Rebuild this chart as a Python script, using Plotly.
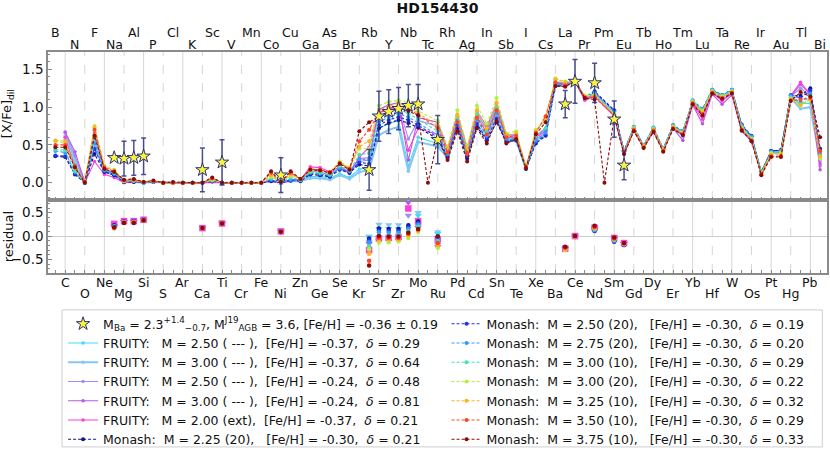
import plotly.graph_objects as go

# element symbols from B (Z=5) to Bi (Z=83)
elements = ["B", "C", "N", "O", "F", "Ne", "Na", "Mg", "Al", "Si",
            "P", "S", "Cl", "Ar", "K", "Ca", "Sc", "Ti", "V", "Cr",
            "Mn", "Fe", "Co", "Ni", "Cu", "Zn", "Ga", "Ge", "As", "Se",
            "Br", "Kr", "Rb", "Sr", "Y", "Zr", "Nb", "Mo", "Tc", "Ru",
            "Rh", "Pd", "Ag", "Cd", "In", "Sn", "Sb", "Te", "I", "Xe",
            "Cs", "Ba", "La", "Ce", "Pr", "Nd", "Pm", "Sm", "Eu", "Gd",
            "Tb", "Dy", "Ho", "Er", "Tm", "Yb", "Lu", "Hf", "Ta", "W",
            "Re", "Os", "Ir", "Pt", "Au", "Hg", "Tl", "Pb", "Bi"]
atomic_z = list(range(5, 84))

# observed abundances of HD154430
obs_z = [11, 12, 13, 14, 20, 22, 28, 37, 38, 39, 40, 41, 42, 44, 57, 58, 60, 62, 63]
obs_val = [0.33, 0.32, 0.33, 0.35, 0.17, 0.27, 0.10, 0.17, 0.88, 0.94, 0.98, 1.02, 1.04,
           0.57, 1.04, 1.34, 1.32, 0.84, 0.23]
obs_err = [0.0, 0.23, 0.23, 0.24, 0.29, 0.30, 0.23, 0.27, 0.33, 0.29, 0.28, 0.28, 0.26,
           0.32, 0.18, 0.29, 0.26, 0.24, 0.19]

N = None
# model predictions, one value per element (Z = 5 ... 83)
fruity_250_037 = [N, .58, .25, 0, .55, .15, .10, .01, .01, 0,
                  .01, 0, 0, 0, 0, 0, .02, 0, 0, 0,
                  0, 0, .02, 0, .02, .02, .08, .08, .06, .12,
                  .07, .18, .20, .72, .78, .82, .22, .60, N, .52,
                  .36, .80, .38, .82, .62, .95, .58, .58, .19, .58,
                  .66, 1.30, 1.30, 1.34, 1.12, 1.18, N, .90, .40, .72,
                  .48, .71, .43, .74, .64, 1.06, .92, 1.21, 1.13, 1.20,
                  .72, .58, .13, .40, .40, 1.12, 1.05, 1.05, .30]
fruity_300_037 = [N, .62, .30, 0, .50, .15, .10, .01, .01, 0,
                  .01, 0, 0, 0, 0, 0, .02, 0, 0, 0,
                  0, 0, .02, 0, .02, .02, .06, .06, .04, .10,
                  .05, .14, .17, .63, .70, .74, .15, .54, N, .48,
                  .33, .74, .34, .76, .58, .88, .55, .56, .18, .56,
                  .64, 1.30, 1.30, 1.34, 1.12, 1.18, N, .90, .40, .72,
                  .48, .71, .43, .74, .64, 1.07, .94, 1.22, 1.14, 1.21,
                  .72, .58, .13, .40, .40, 1.12, .98, 1.00, .28]
fruity_250_024 = [N, .66, .36, .01, .60, .17, .12, .01, .02, 0,
                  .01, 0, 0, 0, 0, 0, .02, 0, 0, 0,
                  0, 0, .03, 0, .04, .03, .15, .14, .10, .20,
                  .12, .28, .30, .92, .98, 1.02, .58, .82, N, .75,
                  .42, .88, .44, .92, .70, 1.02, .62, .62, .20, .60,
                  .70, 1.32, 1.31, 1.34, 1.11, 1.16, N, .89, .39, .71,
                  .47, .70, .43, .73, .61, 1.05, .88, 1.20, 1.10, 1.19,
                  .70, .56, .13, .40, .41, 1.14, 1.25, 1.15, .22]
fruity_300_024 = [N, .67, .41, .01, .65, .18, .13, .01, .02, 0,
                  .01, 0, 0, 0, 0, 0, .02, 0, 0, 0,
                  0, 0, .03, 0, .04, .04, .18, .17, .12, .22,
                  .14, .32, .33, .97, 1.03, 1.06, .30, .86, N, .80,
                  .44, .90, .46, .95, .74, 1.05, .64, .63, .21, .62,
                  .72, 1.33, 1.32, 1.35, 1.10, 1.15, N, .88, .38, .70,
                  .47, .68, .42, .72, .56, 1.03, .78, 1.17, 1.04, 1.16,
                  .68, .55, .12, .39, .40, 1.14, 1.30, 1.17, .17]
fruity_200_ext = [N, .60, .20, 0, .28, .11, .07, 0, .01, 0,
                  .01, 0, 0, 0, 0, 0, .01, 0, 0, 0,
                  0, 0, .02, 0, .03, .04, .21, .20, .14, .20,
                  .13, .34, .47, .93, .98, 1.00, .43, .72, N, .64,
                  .40, .84, .42, .88, .66, .98, .60, .60, .20, .60,
                  .68, 1.31, 1.31, 1.34, 1.09, 1.14, N, .88, .38, .69,
                  .46, .68, .42, .73, .63, 1.04, .84, 1.19, 1.08, 1.18,
                  .69, .56, .13, .42, .43, 1.15, 1.33, 1.16, .25]
monash_225_20 = [.35, .34, .11, 0, .38, .14, .10, .01, .01, 0,
                 .01, 0, 0, 0, 0, 0, .02, 0, 0, 0,
                 0, 0, .02, 0, .03, .02, .11, .10, .08, .17,
                 .13, .24, .22, .72, .79, .83, .79, .73, N, .58,
                 .33, .72, .32, .74, .56, .80, .54, .56, .18, .52,
                 .62, 1.28, 1.28, 1.34, 1.12, 1.20, N, .95, .42, .72,
                 .49, .71, .44, .75, .67, 1.07, .95, 1.22, 1.15, 1.22,
                 .76, .61, .14, .42, .43, 1.15, 1.15, 1.25, .45]
monash_250_20 = [.36, .35, .12, 0, .45, .15, .11, .01, .02, 0,
                 .01, 0, 0, 0, 0, 0, .02, 0, 0, 0,
                 0, 0, .03, 0, .03, .03, .12, .11, .09, .18,
                 .14, .27, .25, .76, .83, .87, .83, .76, N, .60,
                 .35, .76, .35, .78, .58, .85, .56, .57, .19, .54,
                 .63, 1.29, 1.29, 1.34, 1.13, 1.21, N, .96, .42, .73,
                 .49, .72, .45, .76, .68, 1.08, .97, 1.23, 1.16, 1.23,
                 .77, .62, .14, .42, .43, 1.16, 1.12, 1.22, .42]
monash_275_20 = [.42, .40, .14, 0, .52, .16, .12, .02, .02, 0,
                 .01, 0, 0, 0, 0, 0, .03, 0, 0, 0,
                 0, 0, .04, 0, .04, .03, .13, .12, .10, .19,
                 .15, .31, .30, .80, .87, .91, .87, .79, N, .63,
                 .38, .82, .38, .84, .62, .92, .58, .58, .19, .56,
                 .66, 1.31, 1.30, 1.34, 1.14, 1.19, N, .94, .41, .74,
                 .50, .73, .45, .76, .68, 1.09, .98, 1.23, 1.16, 1.23,
                 .76, .61, .14, .41, .42, 1.15, 1.06, 1.18, .38]
monash_300_10 = [.44, .43, .15, 0, .60, .18, .13, .02, .03, 0,
                 .02, 0, 0, 0, 0, 0, .03, 0, 0, 0,
                 0, 0, .06, 0, .07, .04, .14, .13, .11, .22,
                 .16, .37, .39, .86, .93, .97, .92, .84, N, .68,
                 .42, .88, .42, .92, .68, 1.00, .60, .61, .20, .62,
                 .72, 1.34, 1.32, 1.34, 1.14, 1.17, N, .92, .40, .73,
                 .49, .72, .44, .75, .67, 1.08, .96, 1.22, 1.15, 1.22,
                 .74, .59, .13, .40, .41, 1.13, 1.04, 1.14, .35]
monash_300_20 = [.55, .52, .19, .01, .75, .22, .17, .02, .03, .01,
                 .02, 0, 0, 0, 0, 0, .04, 0, 0, 0,
                 0, 0, .08, .01, .09, .05, .16, .16, .13, .28,
                 .20, .45, .45, 1.02, 1.07, 1.09, 1.06, .95, N, .82,
                 .48, .96, .48, 1.02, .78, 1.12, .65, .68, .22, .70,
                 .82, 1.38, 1.34, 1.35, 1.15, 1.16, N, .91, .40, .72,
                 .49, .71, .44, .74, .66, 1.07, .95, 1.21, 1.14, 1.21,
                 .73, .58, .13, .39, .39, 1.11, 1.02, 1.12, .32]
monash_325_10 = [.56, .55, .21, .01, .73, .21, .16, .03, .04, .01,
                 .02, 0, 0, 0, 0, 0, .05, 0, 0, 0,
                 0, 0, .10, .01, .11, .05, .17, .16, .13, .26,
                 .19, .48, .55, .95, 1.01, 1.05, 1.00, .92, N, .76,
                 .45, .90, .44, .96, .72, 1.06, .63, .65, .21, .68,
                 .86, 1.37, 1.33, 1.34, 1.14, 1.15, N, .90, .39, .71,
                 .48, .70, .43, .73, .65, 1.06, .93, 1.20, 1.13, 1.20,
                 .71, .57, .12, .37, .37, 1.10, 1.03, 1.10, .35]
monash_350_10 = [.50, .50, .22, .01, .70, .20, .15, .03, .04, .01,
                 .02, 0, 0, 0, 0, 0, .06, 0, 0, 0,
                 0, 0, .13, .01, .13, .05, .18, .17, .14, .26,
                 .18, .55, .70, .92, .98, 1.02, .97, .90, N, .72,
                 .40, .80, .38, .86, .64, .96, .60, .62, .20, .66,
                 .88, 1.33, 1.29, 1.34, 1.13, 1.13, N, .89, .39, .70,
                 .47, .69, .42, .72, .64, 1.05, .91, 1.19, 1.12, 1.19,
                 .70, .56, .11, .35, .35, 1.09, 1.10, 1.12, .42]
monash_375_10 = [.47, .47, .20, 0, .62, .18, .14, .04, .05, .01,
                 .03, 0, .01, 0, 0, 0, .07, 0, 0, 0,
                 0, 0, .15, .01, .15, .05, .17, .16, .13, .25,
                 .17, .68, .80, .88, .95, .99, .95, .89, 0.0, .58,
                 .30, .68, .28, .72, .52, .82, .52, .58, .19, .64,
                 .80, 1.28, 1.27, 1.34, 1.12, 1.10, 0.0, .87, .38, .68,
                 .46, .67, .41, .71, .63, 1.04, .89, 1.18, 1.11, 1.18,
                 .69, .55, .10, .34, .34, 1.08, 1.20, 1.14, .60]

obs_label = ("M<sub>Ba</sub> = 2.3<sup>+1.4</sup><sub>\u22120.7</sub>, "
             "M<sup>J19</sup><sub>AGB</sub> = 3.6, [Fe/H] = -0.36 \u00b1 0.19")
sp = "\u00a0"
fr = "FRUITY:" + sp * 3 + "M = {} ({})," + sp * 2 + "[Fe/H] = {}," + sp * 2 + "<i>\u03b4</i> = {}"
mo = "Monash:" + sp * 2 + "M = {} ({})," + sp * 3 + "[Fe/H] = -0.30," + sp * 2 + "<i>\u03b4</i> = {}"

# name, values, colour, family
models = [
    (fr.format("2.50", " --- ", "-0.37", "0.29"), fruity_250_037, "#3fdff3", "fruity"),
    (fr.format("3.00", " --- ", "-0.37", "0.64"), fruity_300_037, "#86c6f4", "fruity"),
    (fr.format("2.50", " --- ", "-0.24", "0.48"), fruity_250_024, "#9e8ef7", "fruity"),
    (fr.format("3.00", " --- ", "-0.24", "0.81"), fruity_300_024, "#b45be2", "fruity"),
    (fr.format("2.00", "ext", "-0.37", "0.21"), fruity_200_ext, "#ff3fd8", "ext"),
    (mo.format("2.25", "20", "0.21"), monash_225_20, "#15157a", "monash"),
    (mo.format("2.50", "20", "0.19"), monash_250_20, "#2233ee", "monash"),
    (mo.format("2.75", "20", "0.20"), monash_275_20, "#3399ff", "monash"),
    (mo.format("3.00", "10", "0.29"), monash_300_10, "#3fe3b5", "monash"),
    (mo.format("3.00", "20", "0.22"), monash_300_20, "#b3f03f", "monash"),
    (mo.format("3.25", "10", "0.32"), monash_325_10, "#ffb21c", "monash"),
    (mo.format("3.50", "10", "0.29"), monash_350_10, "#ff4422", "monash"),
    (mo.format("3.75", "10", "0.33"), monash_375_10, "#8b0a0a", "monash"),
]

fig = go.Figure()

for i, (name, vals, col, fam) in enumerate(models):
    fig.add_trace(go.Scatter(
        x=atomic_z, y=vals, mode="lines+markers", name=name,
        legend="legend" if i < 6 else "legend2", legendrank=10 + i,
        connectgaps=True,
        line=dict(color=col, width=2 if i == 1 else 1.1,
                  dash="solid" if fam != "monash" else "3px,2px"),
        marker=dict(size=3.5 if fam != "monash" else 4, color=col),
        xaxis="x", yaxis="y"))

# observations drawn above the model lines, listed first in the legend
fig.add_trace(go.Scatter(
    x=obs_z, y=obs_val, mode="markers", name=obs_label, legend="legend", legendrank=1,
    marker=dict(symbol="star", size=10, color="#f8f43a",
                line=dict(color="#2a2f7a", width=1)),
    error_y=dict(type="data", array=obs_err, color="rgba(30,36,120,0.8)",
                 thickness=1.5, width=2.5),
    xaxis="x", yaxis="y"))

# residuals: observed minus predicted
res_symbol = {"fruity": "triangle-down", "ext": "square", "monash": "circle"}
res_size = {"fruity": 6.5, "ext": 6.5, "monash": 4.5}
for i in [1, 0, 2, 3, 4, 5, 6, 7, 8, 9, 10, 11, 12]:
    name, vals, col, fam = models[i]
    rx, ry = [], []
    for z, v in zip(obs_z, obs_val):
        m = vals[atomic_z.index(z)]
        if m is not None:
            rx.append(z)
            ry.append(v - m)
    fig.add_trace(go.Scatter(
        x=rx, y=ry, mode="markers", showlegend=False,
        marker=dict(symbol=res_symbol[fam], size=res_size[fam], color=col),
        xaxis="x2", yaxis="y2"))

shapes = []
annotations = []
for z, sym in zip(atomic_z, elements):
    if z % 2 == 0:
        dash = "solid" if z % 4 == 2 else "dash"
        for xr, yr in (("x", "y domain"), ("x2", "y2 domain")):
            shapes.append(dict(type="line", xref=xr, yref=yr, x0=z, x1=z, y0=0, y1=1,
                               line=dict(color="#d6d6d6", width=1, dash=dash),
                               layer="below"))
        ypos = -0.041 if z % 4 == 2 else -0.095
    else:
        ypos = 1.090 if z % 4 == 1 else 1.036
    annotations.append(dict(text=sym, x=z, y=ypos, xref="x", yref="paper",
                            showarrow=False, yanchor="middle",
                            font=dict(size=12.5, color="#111")))

# axis titles
annotations.append(dict(text="[X/Fe]<sub>dil</sub>", x=-0.051, y=0.72, xref="paper",
                        yref="paper", showarrow=False, textangle=-90,
                        xanchor="center", yanchor="middle",
                        font=dict(size=13, color="#111")))
annotations.append(dict(text="residual", x=-0.051, y=0.167, xref="paper",
                        yref="paper", showarrow=False, textangle=-90,
                        xanchor="center", yanchor="middle",
                        font=dict(size=13, color="#111")))

# legend frame
shapes.append(dict(type="rect", xref="paper", yref="paper", x0=0.018, x1=0.994,
                   y0=-0.787, y1=-0.167, line=dict(color="#cfcfcf", width=1),
                   fillcolor="rgba(255,255,255,0)"))

axis_line = dict(showline=True, linecolor="#8a8a8a", linewidth=1.5, mirror=True)
minor_y = dict(ticks="inside", ticklen=2, dtick=0.1, tickcolor="#8a8a8a")

fig.update_layout(
    width=830, height=452,
    margin=dict(l=48, r=3, t=52, b=179, autoexpand=False),
    paper_bgcolor="white", plot_bgcolor="white",
    font=dict(family="DejaVu Sans", size=12.5, color="#111"),
    title=dict(text="<b>HD154430</b>", x=0.5, xref="paper", y=0.982,
               yanchor="middle", font=dict(size=14)),
    xaxis=dict(domain=[0, 1], anchor="y", range=[4.25, 83.7], showgrid=False,
               zeroline=False, showticklabels=False, ticks="inside", ticklen=3,
               tickvals=atomic_z, tickcolor="#8a8a8a", automargin=False, **axis_line),
    xaxis2=dict(domain=[0, 1], anchor="y2", matches="x", range=[4.25, 83.7],
                showgrid=False, zeroline=False, showticklabels=False, ticks="inside",
                ticklen=3, tickvals=atomic_z, tickcolor="#8a8a8a", automargin=False,
                **axis_line),
    yaxis=dict(domain=[0.33, 1], anchor="x", range=[-0.23, 1.73], showgrid=False,
               zeroline=False, tickvals=[0, 0.5, 1.0, 1.5], tickformat=".1f",
               ticks="inside", ticklen=4, tickcolor="#8a8a8a", minor=minor_y,
               tickfont=dict(size=13.5), automargin=False, **axis_line),
    yaxis2=dict(domain=[0, 0.33], anchor="x2", range=[-0.79, 0.77], showgrid=False,
                zeroline=True, zerolinecolor="#cccccc", zerolinewidth=1,
                tickvals=[-0.5, 0, 0.5], tickformat=".1f", ticks="inside", ticklen=4,
                tickcolor="#8a8a8a", minor=minor_y, tickfont=dict(size=13.5),
                automargin=False, **axis_line),
    legend=dict(xref="container", yref="container", x=0.076, y=0.316,
                xanchor="left", yanchor="top", bgcolor="rgba(0,0,0,0)",
                itemwidth=30, font=dict(size=12.5)),
    legend2=dict(xref="container", yref="container", x=0.538, y=0.316,
                 xanchor="left", yanchor="top", bgcolor="rgba(0,0,0,0)",
                 itemwidth=30, font=dict(size=12.5)),
    shapes=shapes,
    annotations=annotations,
    showlegend=True,
)

fig.write_html("out.html", config={"displayModeBar": False},
               post_script="document.body.style.margin = '0';")
